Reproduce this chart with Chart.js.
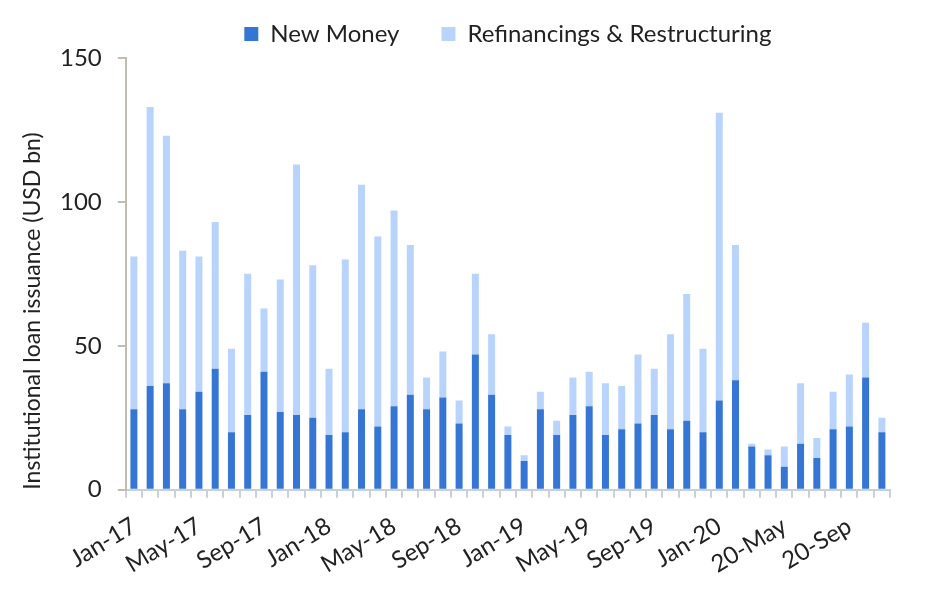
<!DOCTYPE html>
<html>
<head>
<meta charset="utf-8">
<script src="https://cdn.jsdelivr.net/npm/chart.js@4"></script>
<style>
  html, body { margin: 0; padding: 0; background: #ffffff; }
  #wrap { width: 932px; height: 594px; }
</style>
</head>
<body>
<div id="wrap"><canvas id="grafica"></canvas></div>
<script>
// meses (categorías del eje x)
const months = [
  'Jan-17','Feb-17','Mar-17','Apr-17','May-17','Jun-17','Jul-17','Aug-17','Sep-17','Oct-17','Nov-17','Dec-17',
  'Jan-18','Feb-18','Mar-18','Apr-18','May-18','Jun-18','Jul-18','Aug-18','Sep-18','Oct-18','Nov-18','Dec-18',
  'Jan-19','Feb-19','Mar-19','Apr-19','May-19','Jun-19','Jul-19','Aug-19','Sep-19','Oct-19','Nov-19','Dec-19',
  'Jan-20','20-Feb','20-Mar','20-Apr','20-May','20-Jun','20-Jul','20-Aug','20-Sep','20-Oct','20-Nov'
];

// etiquetas visibles en el eje x
const shownLabels = ['Jan-17','May-17','Sep-17','Jan-18','May-18','Sep-18','Jan-19','May-19','Sep-19','Jan-20','20-May','20-Sep'];

// USD bn
const newMoney = [28,36,37,28,34,42,20,26,41,27,26,25,19,20,28,22,29,33,28,32,23,47,33,19,10,28,19,26,29,19,21,23,26,21,24,20,31,38,15,12,8,16,11,21,22,39,20];
const refinancing = [53,97,86,55,47,51,29,49,22,46,87,53,23,60,78,66,68,52,11,16,8,28,21,3,2,6,5,13,12,18,15,24,16,33,44,29,100,47,1,2,7,21,7,13,18,19,5];

const yTicks = [0, 50, 100, 150];

// alto fijo de la leyenda (para que el área del gráfico empiece donde en el original)
const legendHeight = {
  id: 'legendHeight',
  beforeInit(chart) {
    const fitOriginal = chart.legend.fit;
    chart.legend.fit = function () {
      fitOriginal.bind(chart.legend)();
      this.height = 78;
    };
  }
};

const ctx = document.getElementById('grafica').getContext('2d');

new Chart(ctx, {
  type: 'bar',
  data: {
    labels: months,
    datasets: [
      {
        label: 'New Money',
        data: newMoney,
        backgroundColor: '#3575d3',
        barPercentage: 0.43,
        categoryPercentage: 1.0
      },
      {
        label: 'Refinancings & Restructuring',
        data: refinancing,
        backgroundColor: '#b8d4fd',
        barPercentage: 0.43,
        categoryPercentage: 1.0
      }
    ]
  },
  options: {
    responsive: true,
    maintainAspectRatio: false,
    animation: false,
    layout: { padding: { left: 21, right: 42, top: -20, bottom: 1 } },
    plugins: {
      legend: {
        position: 'top',
        fullSize: false,
        labels: {
          boxWidth: 14,
          boxHeight: 14,
          padding: 42,
          color: '#222222',
          font: { family: 'Lato', size: 24 }
        }
      },
      tooltip: { enabled: false }
    },
    scales: {
      x: {
        stacked: true,
        grid: {
          offset: true,
          drawOnChartArea: false,
          drawTicks: true,
          tickLength: 8,
          color: '#c8d0d9',
          lineWidth: 2
        },
        border: { color: '#c8d0d9', width: 2 },
        ticks: {
          autoSkip: false,
          maxRotation: 31,
          minRotation: 31,
          padding: 14,
          color: '#222222',
          font: { family: 'Lato', size: 24 },
          callback: function (value, index) {
            const lbl = months[index];
            return shownLabels.includes(lbl) ? lbl : '';
          }
        }
      },
      y: {
        stacked: true,
        min: 0,
        max: 150,
        afterBuildTicks: function (axis) {
          axis.ticks = yTicks.map(v => ({ value: v }));
        },
        grid: {
          drawOnChartArea: false,
          drawTicks: true,
          tickLength: 8,
          color: '#c4bcb1',
          lineWidth: 2
        },
        border: { color: '#c4bcb1', width: 2 },
        ticks: {
          color: '#222222',
          padding: 16,
          font: { family: 'Lato', size: 24 }
        },
        title: {
          display: true,
          text: 'Institutional loan issuance (USD bn)',
          align: 'start',
          color: '#222222',
          padding: { top: 0, bottom: 0 },
          font: { family: 'Lato', size: 23, lineHeight: 1.0 }
        }
      }
    }
  },
  plugins: [legendHeight]
});
</script>
</body>
</html>
